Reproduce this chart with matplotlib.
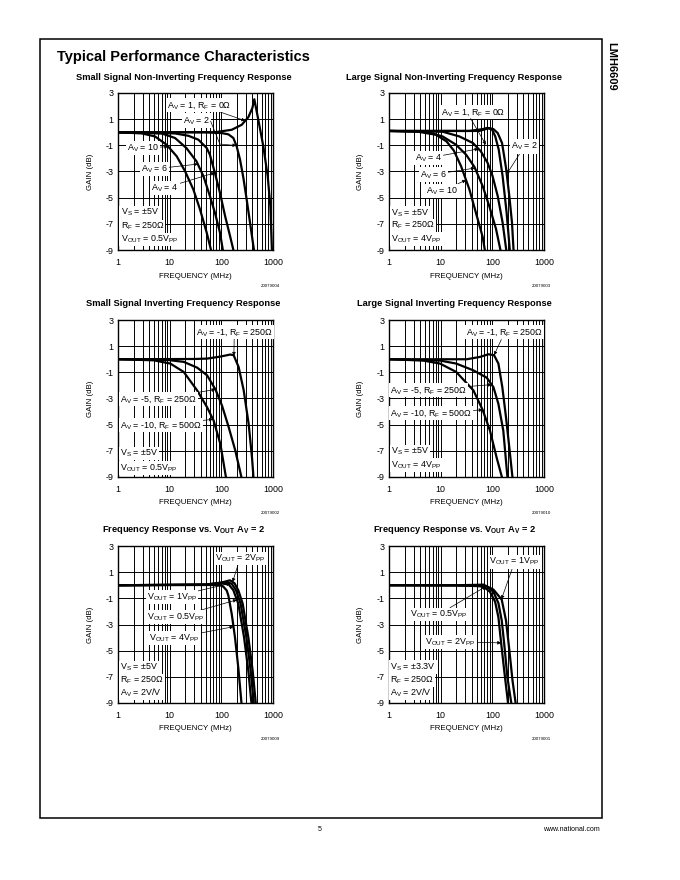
import numpy as np
import matplotlib
matplotlib.use("Agg")
import matplotlib.pyplot as plt
from matplotlib.ticker import LogLocator, NullFormatter
from matplotlib.patches import Rectangle

plt.rcParams["font.family"] = ["Liberation Sans", "DejaVu Sans"]

W, H = 680, 880

# ---- Small Signal Non-Inverting (freq in MHz, gain in dB)
p1_av1_freq = [1, 10, 50, 75, 159, 248, 333, 398, 435, 520, 650, 789, 888, 957]
p1_av1_gain = [0, 0, 0, 0, 0.19, 0.57, 1.15, 1.84, 2.52, 0.95, -1.08, -3.35, -5.63, -9.2]
p1_av2_freq = [1, 50, 101, 137, 171, 198, 230, 267, 309, 359, 435]
p1_av2_gain = [0, 0, -0.06, -0.16, -0.44, -1.08, -2.09, -3.48, -5.13, -6.9, -9.2]
p1_av4_freq = [1, 12.7, 23, 36, 52, 60, 75, 94, 118, 147, 176]
p1_av4_gain = [0, -0.09, -0.27, -0.57, -1.2, -1.71, -3.1, -4.62, -6.39, -7.91, -9.2]
p1_av6_freq = [1, 7, 12.7, 21, 33, 45, 60, 75, 94, 109]
p1_av6_gain = [0, -0.09, -0.44, -1.2, -2.22, -3.35, -4.87, -6.14, -7.66, -9.2]
p1_av10_freq = [1, 2.9, 5.2, 8.7, 13.7, 19.8, 28.7, 38.6, 52, 65]
p1_av10_gain = [0, -0.09, -0.32, -0.95, -1.84, -2.97, -4.37, -5.89, -7.66, -9.2]

# ---- Large Signal Non-Inverting
p2_av1_freq = [1, 36, 65, 81, 99, 114, 133, 158, 189, 220]
p2_av1_gain = [0.1, 0.1, 0.24, 0.34, 0.19, -0.32, -1.33, -3.35, -6.14, -9.2]
p2_av2_freq = [1, 56, 87, 105, 127, 154, 184, 213, 240, 259]
p2_av2_gain = [0.1, 0.1, 0.32, 0.24, -0.06, -0.82, -2.72, -4.87, -6.9, -9.2]
p2_av4_freq = [1, 11, 23, 42, 60, 81, 101, 127, 158, 189]
p2_av4_gain = [0.1, 0.04, -0.32, -0.82, -1.46, -2.34, -3.35, -4.87, -6.9, -9.2]
p2_av6_freq = [1, 5.2, 10.9, 19.8, 31, 45, 65, 87, 118, 147]
p2_av6_gain = [0.1, 0.04, -0.32, -0.95, -1.71, -2.65, -4.11, -5.63, -7.4, -9.2]
p2_av10_freq = [1, 3.5, 8.1, 13, 18, 24.8, 36, 48, 65, 73]
p2_av10_gain = [0.1, 0.05, -0.19, -0.7, -1.4, -2.59, -4.37, -6.14, -8.0, -9.2]

# ---- Small Signal Inverting
p3_av1_freq = [1, 30, 53, 95, 149, 173, 216, 271, 338, 392, 422]
p3_av1_gain = [0, 0.02, 0.05, 0.2, 0.36, 0.31, -0.59, -2.38, -4.95, -7.5, -9.2]
p3_av5_freq = [1, 9, 18.7, 34, 53, 77, 103, 139, 187, 251]
p3_av5_gain = [0, -0.05, -0.2, -0.64, -1.23, -2.31, -3.54, -5.2, -7.0, -9.2]
p3_av10_freq = [1, 4.9, 10.3, 18.7, 34, 53, 71, 96, 125]
p3_av10_gain = [0, -0.08, -0.33, -0.97, -2.38, -3.67, -4.69, -6.49, -9.2]

# ---- Large Signal Inverting
p4_av1_freq = [1, 32, 58, 84, 108, 131, 156, 184, 213, 248]
p4_av1_gain = [0, 0, 0.18, 0.38, 0.31, -0.33, -2.13, -4.44, -6.74, -9.2]
p4_av5_freq = [1, 9.7, 20, 43, 78, 105, 131, 163, 198]
p4_av5_gain = [0, -0.1, -0.33, -0.85, -1.41, -2.13, -3.41, -5.46, -9.2]
p4_av10_freq = [1, 4.6, 9.7, 20, 43, 65, 90, 121, 158]
p4_av10_gain = [0, -0.1, -0.33, -0.97, -2.38, -3.87, -5.46, -7.51, -9.2]

# ---- Frequency Response vs VOUT, Vs = +-5V
p5_v05_freq = [1, 50, 109, 140, 171, 213, 275, 333, 387]
p5_v05_gain = [0, 0.05, 0.13, 0.05, -0.38, -1.41, -3.97, -6.54, -9.2]
p5_v1_freq = [1, 50, 100, 127, 160, 192, 236, 305, 370, 429]
p5_v1_gain = [0, 0.05, 0.2, 0.26, 0.1, -0.38, -1.41, -3.97, -6.54, -9.2]
p5_v2_freq = [1, 50, 100, 147, 180, 213, 259, 333, 404, 469]
p5_v2_gain = [0, 0.05, 0.2, 0.38, 0.15, -0.38, -1.41, -3.97, -6.54, -9.2]
p5_v4_freq = [1, 60, 94, 109, 127, 137, 159, 184, 213, 248]
p5_v4_gain = [0, 0.02, 0, -0.1, -0.4, -0.8, -2.2, -4.0, -6.3, -9.2]

# ---- Frequency Response vs VOUT, Vs = +-3.3V
p6_v05_freq = [1, 20, 50, 78, 105, 131, 152, 170, 196, 237]
p6_v05_gain = [0, 0, -0.03, -0.1, -0.5, -1.36, -2.69, -4.5, -7.05, -9.2]
p6_v1_freq = [1, 20, 50, 67, 105, 152, 184, 214, 246, 287]
p6_v1_gain = [0, 0, 0.03, 0.05, -0.33, -1.1, -2.7, -5.0, -7.3, -9.2]
p6_v2_freq = [1, 20, 50, 67, 90, 113, 131, 147, 170, 204]
p6_v2_gain = [0, -0.02, -0.06, -0.1, -0.5, -1.25, -2.44, -4.3, -6.54, -9.2]

y_ticks = [3, 1, -1, -3, -5, -7, -9]
x_ticks = [1, 10, 100, 1000]
fig_ids = ["20079004", "20079003", "20079002", "20079010", "20079009", "20079001"]

FS = 6.4      # annotation / tick text
FS_LAB = 5.7  # axis labels


def on_curve(freq, gain, f):
    return (f, np.interp(np.log10(f), np.log10(freq), gain))


def make_panel(fig, left_px, top_px, title, fig_id):
    w, h = 155, 157
    ax = fig.add_axes([left_px / W, 1 - (top_px + h) / H, w / W, h / H])
    ax.set_xscale("log")
    ax.set_xlim(1, 1000)
    ax.set_ylim(-9, 3)
    ax.set_xticks(x_ticks)
    ax.set_xticklabels([str(t) for t in x_ticks])
    ax.xaxis.set_minor_locator(LogLocator(base=10, subs=range(2, 10)))
    ax.xaxis.set_minor_formatter(NullFormatter())
    ax.set_yticks(y_ticks)
    ax.set_yticklabels([str(t) for t in y_ticks])
    ax.tick_params(which="both", length=0, labelsize=FS)
    ax.tick_params(axis="x", pad=5.5)
    ax.tick_params(axis="y", pad=3.5)
    ax.grid(which="both", color="black", lw=0.7)
    for s in ax.spines.values():
        s.set_linewidth(1.0)
    cx = left_px + w / 2
    fig.text((cx - 12) / W, 1 - (top_px - 16) / H, title, ha="center", va="center",
             fontsize=6.7, fontweight="bold")
    fig.text(cx / W, 1 - (top_px + h + 26) / H, "FREQUENCY (MHz)", ha="center",
             va="center", fontsize=FS_LAB)
    fig.text((left_px - 28) / W, 1 - (top_px + h / 2) / H, "GAIN (dB)", ha="center",
             va="center", rotation=90, fontsize=FS_LAB)
    fig.text((left_px + w + 7) / W, 1 - (top_px + h + 36) / H, fig_id, ha="right",
             va="center", fontsize=3.2)
    return ax


def curve(ax, freq, gain):
    ax.plot(freq, gain, color="black", lw=1.6, solid_capstyle="butt", zorder=3)


ARROW = dict(arrowstyle="-|>", color="black", lw=0.5, mutation_scale=5,
             shrinkA=0, shrinkB=0)
BOX = dict(boxstyle="square,pad=0.12", fc="white", ec="none")


def label(ax, text, xt, yt, tip=None):
    if tip is None:
        ax.text(xt, yt, text, ha="left", va="center", fontsize=FS, bbox=BOX, zorder=5)
    else:
        ax.annotate(text, xy=tip, xytext=(xt, yt), ha="left", va="center", fontsize=FS,
                    bbox=BOX, zorder=5, arrowprops=ARROW)


def leader(ax, start, tip, conn):
    ax.annotate("", xy=tip, xytext=start, zorder=5,
                arrowprops=dict(ARROW, connectionstyle=conn))


AV = r"A$_\mathregular{V}$"
RF = r"R$_\mathregular{F}$"
VS = r"V$_\mathregular{S}$"
VO = r"V$_\mathregular{OUT}$"
PP = r"V$_\mathregular{PP}$"

fig = plt.figure(figsize=(W / 100, H / 100), dpi=100)

# page frame and header
fig.add_artist(Rectangle((40 / W, 1 - 818 / H), 562 / W, 779 / H, transform=fig.transFigure,
                         fill=False, lw=1.1, ec="black"))
fig.text(57 / W, 1 - 57 / H, "Typical Performance Characteristics", ha="left",
         va="center", fontsize=10.5, fontweight="bold")
fig.text(611 / W, 1 - 66 / H, "LMH6609", ha="center", va="center", rotation=-90,
         fontsize=8, fontweight="bold")
fig.text(320 / W, 1 - 829 / H, "5", ha="center", va="center", fontsize=5)
fig.text(600 / W, 1 - 829 / H, "www.national.com", ha="right", va="center", fontsize=5)

# panel 1
ax = make_panel(fig, 118, 93, "Small Signal Non-Inverting Frequency Response", fig_ids[0])
for fr, g in [(p1_av1_freq, p1_av1_gain), (p1_av2_freq, p1_av2_gain), (p1_av4_freq, p1_av4_gain),
              (p1_av6_freq, p1_av6_gain), (p1_av10_freq, p1_av10_gain)]:
    curve(ax, fr, g)
label(ax, AV + " = 1, " + RF + " = 0Ω", 9.0, 2.1, on_curve(p1_av1_freq, p1_av1_gain, 290))
label(ax, AV + " = 2", 18.0, 0.9)
leader(ax, (62, 0.85), on_curve(p1_av2_freq, p1_av2_gain, 195),
       "angle,angleA=-68,angleB=175,rad=0")
label(ax, AV + " = 10", 1.5, -1.2, on_curve(p1_av10_freq, p1_av10_gain, 9.4))
label(ax, AV + " = 6", 2.8, -2.8, on_curve(p1_av6_freq, p1_av6_gain, 35))
label(ax, AV + " = 4", 4.4, -4.25, on_curve(p1_av4_freq, p1_av4_gain, 75))
label(ax, VS + " = ±5V", 1.12, -6.15)
label(ax, RF + " = 250Ω", 1.12, -7.2)
label(ax, VO + " = 0.5" + PP, 1.12, -8.2)

# panel 2
ax = make_panel(fig, 389, 93, "Large Signal Non-Inverting Frequency Response", fig_ids[1])
for fr, g in [(p2_av1_freq, p2_av1_gain), (p2_av2_freq, p2_av2_gain), (p2_av4_freq, p2_av4_gain),
              (p2_av6_freq, p2_av6_gain), (p2_av10_freq, p2_av10_gain)]:
    curve(ax, fr, g)
label(ax, AV + " = 1, " + RF + " = 0Ω", 10.0, 1.55)
leader(ax, (38, 1.05), (75, -0.95), "arc3")
label(ax, AV + " = 2", 230, -1.07, on_curve(p2_av2_freq, p2_av2_gain, 190))
label(ax, AV + " = 4", 3.2, -1.96, on_curve(p2_av4_freq, p2_av4_gain, 54))
label(ax, AV + " = 6", 4.0, -3.23, on_curve(p2_av6_freq, p2_av6_gain, 46))
label(ax, AV + " = 10", 5.1, -4.5, on_curve(p2_av10_freq, p2_av10_gain, 31))
label(ax, VS + " = ±5V", 1.1, -6.16)
label(ax, RF + " = 250Ω", 1.1, -7.13)
label(ax, VO + " = 4" + PP, 1.1, -8.15)

# panel 3
ax = make_panel(fig, 118, 320, "Small Signal Inverting Frequency Response", fig_ids[2])
for fr, g in [(p3_av1_freq, p3_av1_gain), (p3_av5_freq, p3_av5_gain), (p3_av10_freq, p3_av10_gain)]:
    curve(ax, fr, g)
label(ax, AV + " = -1, " + RF + " = 250Ω", 32, 2.1, on_curve(p3_av1_freq, p3_av1_gain, 175))
label(ax, AV + " = -5, " + RF + " = 250Ω", 1.08, -3.03, on_curve(p3_av5_freq, p3_av5_gain, 77))
label(ax, AV + " = -10, " + RF + " = 500Ω", 1.08, -5.03, on_curve(p3_av10_freq, p3_av10_gain, 69))
label(ax, VS + " = ±5V", 1.1, -7.2)
label(ax, VO + " = 0.5" + PP, 1.1, -8.3)

# panel 4
ax = make_panel(fig, 389, 320, "Large Signal Inverting Frequency Response", fig_ids[3])
for fr, g in [(p4_av1_freq, p4_av1_gain), (p4_av5_freq, p4_av5_gain), (p4_av10_freq, p4_av10_gain)]:
    curve(ax, fr, g)
label(ax, AV + " = -1, " + RF + " = 250Ω", 31, 2.05, on_curve(p4_av1_freq, p4_av1_gain, 108))
label(ax, AV + " = -5, " + RF + " = 250Ω", 1.06, -2.33, on_curve(p4_av5_freq, p4_av5_gain, 97))
label(ax, AV + " = -10, " + RF + " = 500Ω", 1.06, -4.1, on_curve(p4_av10_freq, p4_av10_gain, 65))
label(ax, VS + " = ±5V", 1.1, -7.05)
label(ax, VO + " = 4" + PP, 1.1, -8.08)

# panel 5
title_vout = r"Frequency Response vs. V$_\mathregular{OUT}$ A$_\mathregular{V}$ = 2"
ax = make_panel(fig, 118, 546, title_vout, fig_ids[4])
for fr, g in [(p5_v05_freq, p5_v05_gain), (p5_v1_freq, p5_v1_gain), (p5_v2_freq, p5_v2_gain),
              (p5_v4_freq, p5_v4_gain)]:
    curve(ax, fr, g)
label(ax, VO + " = 2" + PP, 75, 2.05, on_curve(p5_v2_freq, p5_v2_gain, 165))
label(ax, VO + " = 1" + PP, 3.6, -0.9, on_curve(p5_v1_freq, p5_v1_gain, 150))
label(ax, VO + " = 0.5" + PP, 3.6, -2.45, on_curve(p5_v05_freq, p5_v05_gain, 200))
label(ax, VO + " = 4" + PP, 4.0, -4.04, on_curve(p5_v4_freq, p5_v4_gain, 172))
label(ax, VS + " = ±5V", 1.1, -6.3)
label(ax, RF + " = 250Ω", 1.1, -7.28)
label(ax, AV + " = 2V/V", 1.1, -8.23)

# panel 6
ax = make_panel(fig, 389, 546, title_vout, fig_ids[5])
for fr, g in [(p6_v05_freq, p6_v05_gain), (p6_v1_freq, p6_v1_gain), (p6_v2_freq, p6_v2_gain)]:
    curve(ax, fr, g)
label(ax, VO + " = 1" + PP, 88, 1.8, on_curve(p6_v1_freq, p6_v1_gain, 150))
label(ax, VO + " = 0.5" + PP, 2.5, -2.24, on_curve(p6_v05_freq, p6_v05_gain, 75))
label(ax, VO + " = 2" + PP, 5.0, -4.33, on_curve(p6_v2_freq, p6_v2_gain, 148))
label(ax, VS + " = ±3.3V", 1.06, -6.23)
label(ax, RF + " = 250Ω", 1.06, -7.26)
label(ax, AV + " = 2V/V", 1.06, -8.23)

fig.savefig("out.png", dpi=100, facecolor="white")
